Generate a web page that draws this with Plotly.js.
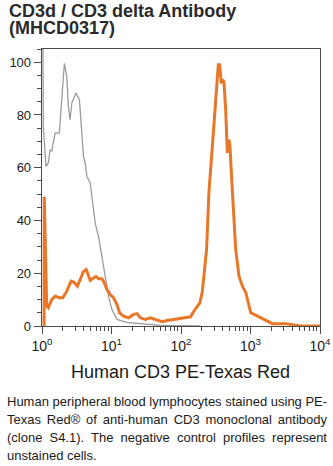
<!DOCTYPE html>
<html>
<head>
<meta charset="utf-8">
<script src="https://cdn.plot.ly/plotly-3.0.1.min.js"></script>
<style>
  html, body { margin: 0; padding: 0; background: #fff; }
  #wrap { position: relative; width: 333px; height: 466px; overflow: hidden; }
  #chart { position: absolute; left: 0; top: 0; width: 333px; height: 466px; }
  #caption { position: absolute; left: 7px; top: 393px; width: 320px;
    font-family: "Liberation Sans", Arial, sans-serif; font-size: 13px; line-height: 18px; color: #1a1a1a; }
  #caption div { text-align: justify; text-align-last: justify; white-space: nowrap; }
  #caption div.last { text-align-last: left; }
</style>
</head>
<body>
<div id="wrap">
  <div id="chart"></div>
  <div id="caption"></div>
</div>
<script>
// ---- data ----
const titleLines = ["CD3d / CD3 delta Antibody", "(MHCD0317)"];
const xAxisTitle = "Human CD3 PE-Texas Red";
const captionLines = [
  "Human peripheral blood lymphocytes stained using PE-",
  "Texas Red\u00AE of anti-human CD3 monoclonal antibody",
  "(clone S4.1). The negative control profiles represent",
  "unstained cells."
];

const xTickVals = [1, 10, 100, 1000, 10000];
const xTickText = ["10<sup>0</sup>", "10<sup>1</sup>", "10<sup>2</sup>", "10<sup>3</sup>", "10<sup>4</sup>"];
const xMinorVals = [2,3,4,5,6,7,8,9,20,30,40,50,60,70,80,90,200,300,400,500,600,700,800,900,2000,3000,4000,5000,6000,7000,8000,9000];
const yTickVals = [0, 20, 40, 60, 80, 100];

// negative control (unstained) - grey
const controlX = [1.03, 1.044, 1.142, 1.233, 1.305, 1.380, 1.541, 1.777, 2.099, 2.274, 2.398, 2.537, 2.685, 3.097, 3.457, 3.743, 3.948, 4.178, 4.422, 4.933, 5.397, 5.827, 6.501, 7.280, 8.124, 9.066, 10.15, 11.99, 16.5, 26.02, 50.6, 191];
const controlY = [110, 75.6, 60.5, 61.8, 66.8, 66.2, 73.1, 73.1, 99.6, 94.5, 83.2, 78.2, 84.5, 88.3, 85.7, 73.1, 64.3, 61.8, 56.7, 54.2, 45.3, 39.0, 34.0, 26.4, 17.6, 11.3, 6.2, 2.5, 1.4, 0.8, 0.2, 0];

// CD3 stained - orange
const stainedX = [1.072, 1.078, 1.169, 1.233, 1.380, 1.541, 1.777, 1.990, 2.274, 2.623, 2.899, 3.234, 3.622, 3.948, 4.319, 4.570, 4.933, 5.506, 5.965, 6.501, 7.280, 7.857, 8.596, 9.592, 10.71, 11.99, 13.07, 14.93, 17.63, 20.82, 23.31, 26.02, 30.72, 36.27, 40.49, 47.80, 53.52, 63.20, 78.70, 98.35, 122.9, 137.2, 153.0, 171.3, 186.8, 202.4, 213.4, 233.5, 252.0, 282.2, 315.0, 344.5, 359.7, 380.6, 397.5, 415.1, 439.2, 464.7, 490.1, 506.7, 530.8, 567.4, 612.4, 683.6, 765.2, 857.7, 921.8, 1008, 1125, 1316, 1570, 1834, 2075, 3228, 4035, 4502, 5317, 10000];
const stainedY = [0, 49, 7.5, 6.9, 10.0, 11.3, 10.7, 10.7, 13.2, 17.0, 16.6, 15.1, 18.2, 20.7, 21.4, 19.5, 17.3, 18.2, 18.8, 17.9, 17.9, 16.4, 13.8, 11.9, 10.7, 8.1, 5.0, 3.7, 3.1, 4.4, 4.7, 3.1, 2.5, 3.1, 2.7, 1.8, 1.6, 2.1, 2.5, 2.7, 3.2, 3.5, 5.6, 7.5, 8.8, 13.0, 19.0, 29.0, 50.4, 66.8, 85.7, 99.0, 99.0, 92.0, 93.3, 92.6, 82.0, 65.6, 70.6, 68.0, 58.0, 41.6, 29.0, 18.8, 15.1, 12.6, 8.8, 5.0, 4.4, 3.5, 2.5, 1.5, 0.9, 0.9, 0.6, 0.2, 0, 0];

// ---- styles ----
const FONT = "Liberation Sans, Arial, sans-serif";
const greyColor = "#9b9b9b";
const orangeColor = "#e8772a";
const axisColor = "#4a4a4a";

const traces = [
  { x: controlX, y: controlY, type: "scatter", mode: "lines",
    line: { color: greyColor, width: 1.3 }, hoverinfo: "skip", showlegend: false },
  { x: stainedX, y: stainedY, type: "scatter", mode: "lines",
    line: { color: orangeColor, width: 3 }, hoverinfo: "skip", showlegend: false }
];

const layout = {
  width: 333, height: 466,
  margin: { l: 42, r: 13, t: 49, b: 140, pad: 0 },
  paper_bgcolor: "#fff", plot_bgcolor: "#fff",
  font: { family: FONT, size: 13, color: "#1a1a1a" },
  showlegend: false,
  xaxis: {
    type: "log", range: [0, 4], fixedrange: true,
    tickmode: "array", tickvals: xTickVals, ticktext: xTickText,
    ticks: "outside", ticklen: 7, tickwidth: 1, tickcolor: axisColor,
    showline: true, linecolor: axisColor, linewidth: 1.3, mirror: true,
    showgrid: false, zeroline: false,
    tickfont: { family: FONT, size: 14, color: "#1a1a1a" },
    minor: { tickmode: "array", tickvals: xMinorVals, ticks: "outside", ticklen: 4, tickwidth: 1, tickcolor: axisColor, showgrid: false }
  },
  yaxis: {
    range: [0, 105], fixedrange: true,
    tickmode: "array", tickvals: yTickVals,
    ticks: "outside", ticklen: 7, tickwidth: 1, tickcolor: axisColor,
    showline: true, linecolor: axisColor, linewidth: 1.3, mirror: true,
    showgrid: false, zeroline: false,
    tickfont: { family: FONT, size: 13, color: "#1a1a1a" },
    minor: { dtick: 5, ticks: "outside", ticklen: 4, tickwidth: 1, tickcolor: axisColor, showgrid: false }
  },
  annotations: [
    { text: "<b>" + titleLines[0] + "</b>", xref: "paper", yref: "paper",
      x: -0.127, y: 1 + (49 - 11) / 277, xanchor: "left", yanchor: "middle", showarrow: false,
      font: { family: FONT, size: 18, color: "#2a2a2a" } },
    { text: "<b>" + titleLines[1] + "</b>", xref: "paper", yref: "paper",
      x: -0.127, y: 1 + (49 - 27.5) / 277, xanchor: "left", yanchor: "middle", showarrow: false,
      font: { family: FONT, size: 18, color: "#2a2a2a" } },
    { text: xAxisTitle, xref: "paper", yref: "paper",
      x: 0.497, y: -(371.5 - 326) / 277, xanchor: "center", yanchor: "middle", showarrow: false,
      font: { family: FONT, size: 18, color: "#1a1a1a" } }
  ]
};

Plotly.newPlot("chart", traces, layout, { staticPlot: true, displayModeBar: false });

const cap = document.getElementById("caption");
captionLines.forEach(function (t, i) {
  const d = document.createElement("div");
  d.textContent = t;
  if (i === captionLines.length - 1) d.className = "last";
  cap.appendChild(d);
});
</script>
</body>
</html>
